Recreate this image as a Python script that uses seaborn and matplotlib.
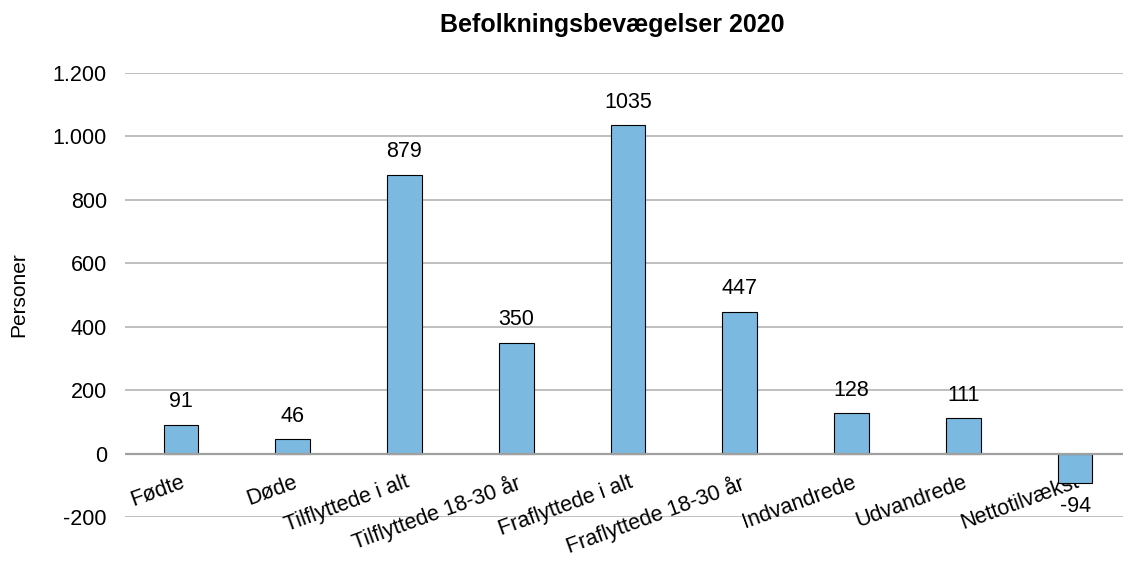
import matplotlib
matplotlib.use("Agg")
import matplotlib.pyplot as plt
import matplotlib.ticker as mticker
import seaborn as sns

# data
categories = ["Fødte", "Døde", "Tilflyttede i alt", "Tilflyttede 18-30 år",
              "Fraflyttede i alt", "Fraflyttede 18-30 år", "Indvandrede",
              "Udvandrede", "Nettotilvækst"]
values = [91, 46, 879, 350, 1035, 447, 128, 111, -94]
y_ticks = [-200, 0, 200, 400, 600, 800, 1000, 1200]

sns.set_theme(style="white")
plt.rcParams["font.family"] = ["Liberation Sans", "DejaVu Sans"]
plt.rcParams["text.color"] = "black"

fig = plt.figure(figsize=(11.23, 5.61), dpi=100)
# plot area runs past the right edge, as in the reference
ax = fig.add_axes([0.1113, 0.0784, 0.8958, 0.7914])

sns.barplot(x=categories, y=values, color="#7CB9E0", saturation=1,
            edgecolor="black", linewidth=0.8, width=0.31, ax=ax, zorder=3)

ax.set_ylim(-200, 1200)
ax.set_xlim(-0.5, len(categories) - 0.5)
ax.set_yticks(y_ticks)
ax.yaxis.set_major_formatter(
    mticker.FuncFormatter(lambda v, p: f"{int(v):,}".replace(",", ".")))

for t in y_ticks:
    if t != 0:
        ax.axhline(t, color="#BFBFBF", linewidth=1.4, zorder=0)
ax.axhline(0, color="#A0A0A0", linewidth=1.6, zorder=4)

for s in ax.spines.values():
    s.set_visible(False)
ax.spines["bottom"].set_position(("data", 0))

ax.tick_params(axis="both", length=0, labelsize=15.5, colors="black")
ax.tick_params(axis="y", pad=13)
ax.tick_params(axis="x", pad=13)
plt.setp(ax.get_xticklabels(), rotation=20, ha="right", rotation_mode="anchor")

ax.bar_label(ax.containers[0], labels=[str(v) for v in values],
             padding=9, fontsize=15.5, color="black")

ax.set_ylabel("")
ax.set_xlabel("")
fig.text(19 / 1123, 0.474, "Personer", rotation=90, ha="center", va="center",
         fontsize=15)
fig.text(612 / 1123, 0.955, "Befolkningsbevægelser 2020", ha="center",
         va="center", fontsize=18, fontweight="bold")

fig.savefig("out.png", dpi=100)
